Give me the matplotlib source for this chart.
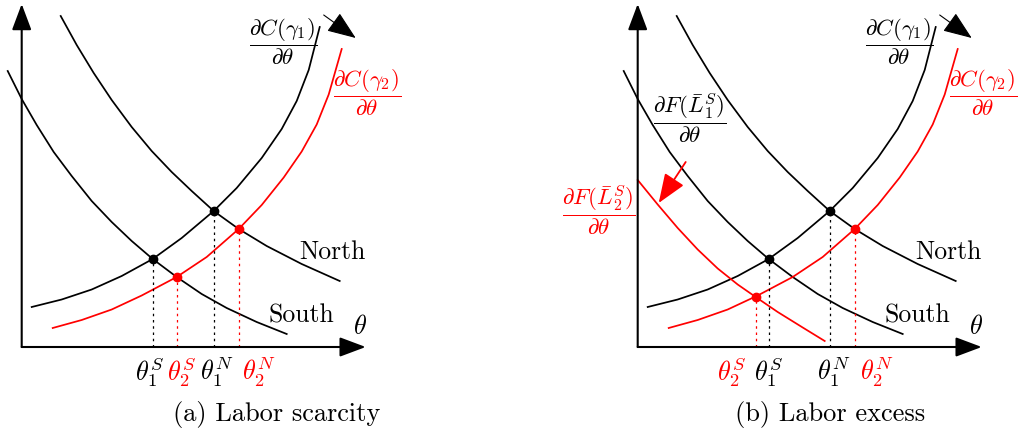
import matplotlib
matplotlib.use('Agg')
import matplotlib.pyplot as plt

plt.rcParams['mathtext.fontset'] = 'cm'

# curves in (theta, value) units, origin at the corner of the axes
north_x = [39, 55, 72, 90, 110, 130, 150, 170, 192, 217, 245, 280, 318]
north_y = [331, 302, 274, 247, 220, 196, 175, 156, 136, 118, 101, 83, 66]
south_x = [-14, 0, 15, 32, 50, 70, 90, 110, 131, 155, 180, 205, 235, 265]
south_y = [276, 248, 222, 195, 171, 146, 125, 106, 88, 70, 53, 39, 25, 13]
cost1_x = [10, 40, 70, 100, 131, 160, 192, 215, 240, 260, 275, 287, 298]
cost1_y = [40, 47.5, 57.5, 71, 88, 109, 136, 159, 189, 218, 246, 277, 320]
cost2_x = [31, 60, 90, 120, 155, 185, 217, 240, 262, 280, 295, 307, 320]
cost2_y = [19, 27, 37.5, 51.5, 70, 90, 118, 142, 169.5, 195.5, 222.5, 252.5, 298]
south2_x = [0, 20, 40, 60, 80, 100, 118, 140, 165, 187]   # dF(L2)/dtheta, panel b
south2_y = [167, 142.5, 119, 97.5, 78.5, 62.5, 50, 35, 19.5, 6]

# equilibria
eq1_x = [131, 192]
eq1_y = [88, 136]
eq2a_x = [155, 217]
eq2a_y = [70, 118]
eq2b_x = [118, 217]
eq2b_y = [50, 118]

ticks_a = [r'$\theta_1^S$', r'$\theta_2^S$', r'$\theta_1^N$', r'$\theta_2^N$']
ticks_a_x = [128, 160, 195, 237]
ticks_a_c = ['black', 'red', 'black', 'red']
ticks_b = [r'$\theta_2^S$', r'$\theta_1^S$', r'$\theta_1^N$', r'$\theta_2^N$']
ticks_b_x = [94, 131, 196, 239]
ticks_b_c = ['red', 'black', 'black', 'red']

W, H = 1019, 434
fig = plt.figure(figsize=(W / 100, H / 100), dpi=100)

LW = 1.25
serif = 'cmr10'
FS_FRAC = 16.5


def arrow(ax, start, end, color='black', lw=1.5, hl=0.8, hw=0.3):
    ax.annotate('', xy=end, xytext=start,
                arrowprops=dict(arrowstyle='-|>,head_length=%g,head_width=%g' % (hl, hw),
                                color=color, lw=lw, shrinkA=0, shrinkB=0,
                                mutation_scale=20))


def common(ax):
    arrow(ax, (0, 0), (0, 343))
    arrow(ax, (0, 0), (344, 0))
    ax.plot(north_x, north_y, color='black', lw=LW)
    ax.plot(south_x, south_y, color='black', lw=LW)
    ax.plot(cost1_x, cost1_y, color='black', lw=LW)
    ax.plot(cost2_x, cost2_y, color='red', lw=LW)
    arrow(ax, (302, 332), (334, 309), lw=0.8, hl=0.9, hw=0.35)
    ax.text(311, 95, 'North', fontsize=18.5, family=serif, ha='center', va='center')
    ax.text(280, 31, 'South', fontsize=18.5, family=serif, ha='center', va='center')
    ax.text(338, 20, r'$\theta$', fontsize=19, ha='center', va='center')
    ax.text(261, 305, r'$\dfrac{\partial C(\gamma_1)}{\partial\theta}$',
            fontsize=FS_FRAC, ha='center', va='center')
    ax.text(345, 254, r'$\dfrac{\partial C(\gamma_2)}{\partial\theta}$',
            fontsize=FS_FRAC, ha='center', va='center', color='red')


def equilibria(ax, xs, ys, color):
    for x, y in zip(xs, ys):
        ax.plot([x, x], [0, y], color=color, lw=0.9, ls=(0, (2, 3)))
    ax.plot(xs, ys, 'o', color=color, ms=6, zorder=5)


def ticks(ax, labels, xs, colors):
    for lab, x, c in zip(labels, xs, colors):
        ax.text(x, -25, lab, fontsize=19, color=c, ha='center', va='center')


# panel (a): origin at pixel (21.7, 347)
ax1 = fig.add_axes([0, 0, 509 / W, 1])
ax1.set_xlim(-21.7, 509 - 21.7)
ax1.set_ylim(-87, 347)
ax1.axis('off')
common(ax1)
equilibria(ax1, eq1_x, eq1_y, 'black')
equilibria(ax1, eq2a_x, eq2a_y, 'red')
ticks(ax1, ticks_a, ticks_a_x, ticks_a_c)
ax1.text(255, -68, '(a) Labor scarcity', fontsize=19, family=serif,
         ha='center', va='center')

# panel (b): origin at pixel (637.7, 347)
ax2 = fig.add_axes([509 / W, 0, 510 / W, 1])
ax2.set_xlim(509 - 637.7, W - 637.7)
ax2.set_ylim(-87, 347)
ax2.axis('off')
common(ax2)
ax2.plot(south2_x, south2_y, color='red', lw=LW)
equilibria(ax2, eq1_x, eq1_y, 'black')
equilibria(ax2, eq2b_x, eq2b_y, 'red')
ticks(ax2, ticks_b, ticks_b_x, ticks_b_c)
ax2.text(52, 229, r'$\dfrac{\partial F(\bar{L}_1^S)}{\partial\theta}$',
         fontsize=FS_FRAC, ha='center', va='center')
ax2.text(-39, 137, r'$\dfrac{\partial F(\bar{L}_2^S)}{\partial\theta}$',
         fontsize=FS_FRAC, ha='center', va='center', color='red')
arrow(ax2, (48, 185), (21, 144), color='red', lw=1.3, hl=0.9, hw=0.35)
ax2.text(192, -68, '(b) Labor excess', fontsize=19, family=serif,
         ha='center', va='center')

fig.savefig('out.png', dpi=100)
